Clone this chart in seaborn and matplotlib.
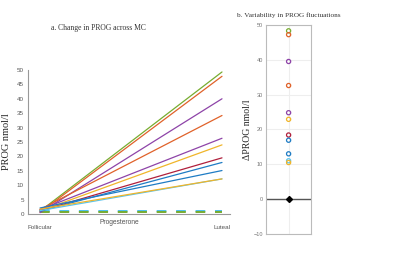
import pandas as pd
import numpy as np
import seaborn as sns
import matplotlib.pyplot as plt

# 数据：每位受试者卵泡期与黄体期的PROG值
subjects = ['s1', 's2', 's3', 's4', 's5', 's6', 's7', 's8', 's9', 's10', 's11']
follicular = [1.0, 0.6, 0.5, 1.6, 1.5, 1.1, 1.1, 1.0, 2.1, 1.2, 1.7]
luteal = [49.3, 47.8, 40.0, 34.2, 26.3, 24.0, 19.5, 17.9, 15.1, 12.2, 12.2]
colors = ['#77AC30', '#E0622A', '#8E44A8', '#E0622A', '#8E44A8', '#F0B52A',
          '#B0203C', '#1F7CC4', '#1F7CC4', '#5BC4EE', '#F0B52A']

# 虚线（无变化的受试者）
flat_subjects = ['f1', 'f2']
flat_follicular = [1.2, 0.85]
flat_luteal = [1.2, 0.85]
flat_colors = ['#4DBEEE', '#77AC30']

# 右图：变化量
delta = [48.3, 47.2, 39.5, 32.6, 24.8, 22.9, 18.4, 16.9, 13.0, 11.0, 10.5]
delta_flat_mean = 0.0
delta_flat_err = 0.9

phases = ['Follicular', 'Luteal']

df = pd.DataFrame({
    'subject': subjects * 2,
    'phase': [0] * len(subjects) + [1] * len(subjects),
    'value': follicular + luteal,
})
df_flat = pd.DataFrame({
    'subject': flat_subjects * 2,
    'phase': [0] * 2 + [1] * 2,
    'value': flat_follicular + flat_luteal,
})

sns.set_style('white')
plt.rcParams['font.family'] = ['Liberation Sans', 'DejaVu Sans']

fig = plt.figure(figsize=(4, 2.62), dpi=100)
ax1 = fig.add_axes([0.07, 0.183, 0.505, 0.55])
ax2 = fig.add_axes([0.665, 0.107, 0.113, 0.798])

# 左图：折线
sns.lineplot(data=df_flat, x='phase', y='value', hue='subject', palette=flat_colors,
             ax=ax1, legend=False, linewidth=1.4, dashes=False, linestyle=(0, (5, 5)))
sns.lineplot(data=df, x='phase', y='value', hue='subject', palette=colors,
             ax=ax1, legend=False, linewidth=0.9)

ax1.set_xlim(-0.066, 1.044)
ax1.set_ylim(0, 50)
ax1.set_xticks([0, 1])
ax1.set_xticklabels(phases)
ax1.set_yticks(range(0, 51, 5))
ax1.set_xlabel('')
ax1.set_ylabel('PROG nmol/l', family='Liberation Serif', fontsize=7.5, labelpad=4)
for s in ['top', 'right']:
    ax1.spines[s].set_visible(False)
for s in ['left', 'bottom']:
    ax1.spines[s].set_color('#999999')
    ax1.spines[s].set_linewidth(0.8)
ax1.tick_params(axis='y', length=2, width=0.6, color='#999999', labelsize=4.5,
                labelcolor='#555555', pad=1)
ax1.tick_params(axis='x', length=6, width=0.6, color='#999999', labelsize=4.5,
                labelcolor='#555555', pad=2)
ax1.text(0.45, -0.035, 'Progesterone', transform=ax1.transAxes, ha='center', va='top',
         fontsize=4.8, color='#555555')
fig.text(0.245, 0.895, 'a. Change in PROG across MC', family='Liberation Serif',
         fontsize=5.5, color='#333333', ha='center', va='center')

# 右图：散点
df2 = pd.DataFrame({'x': [0] * len(delta), 'delta': delta, 'subject': subjects})
ax2.axhline(0, color='#555555', linewidth=1.0, zorder=1)
sns.scatterplot(data=df2, x='x', y='delta', hue='subject', palette=colors, ax=ax2,
                legend=False, marker='o', s=9, facecolor='none', linewidth=0.9, zorder=3)
for coll in ax2.collections:
    coll.set_facecolor('none')
    coll.set_edgecolor(colors)
ax2.errorbar([0], [delta_flat_mean], yerr=[delta_flat_err], fmt='D', color='black',
             markersize=3, elinewidth=0.8, capsize=0, zorder=4)
ax2.set_xlim(-1, 1)
ax2.set_ylim(-10, 50)
ax2.set_yticks(range(-10, 51, 10))
ax2.set_xticks([0])
ax2.set_xticklabels([''])
ax2.set_xlabel('')
ax2.set_ylabel('ΔPROG nmol/l', family='Liberation Serif', fontsize=7, labelpad=1)
ax2.grid(True, color='#eeeeee', linewidth=0.8)
ax2.set_axisbelow(True)
for s in ax2.spines.values():
    s.set_color('#bbbbbb')
    s.set_linewidth(0.8)
ax2.tick_params(axis='y', length=0, labelsize=4, labelcolor='#777777', pad=2)
ax2.tick_params(axis='x', length=0)
fig.text(0.593, 0.943, 'b. Variability in PROG fluctuations', family='Liberation Serif',
         fontsize=5.2, color='#333333', ha='left', va='center')

fig.savefig('out.png', dpi=100)
